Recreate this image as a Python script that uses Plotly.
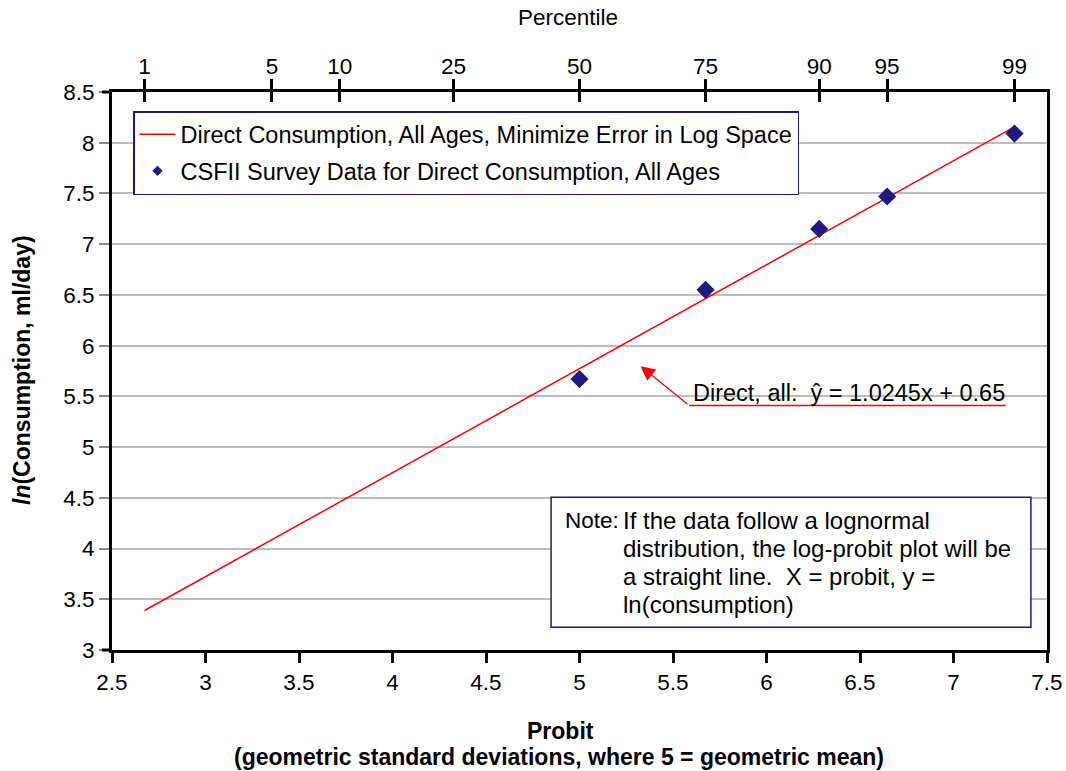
import plotly.graph_objects as go

# Percentile ticks on the top axis and their probit positions
percentiles = [1, 5, 10, 25, 50, 75, 90, 95, 99]
percentile_probits = [2.674, 3.355, 3.718, 4.326, 5.0, 5.674, 6.282, 6.645, 7.326]

# CSFII survey data for direct consumption, all ages: probit vs ln(consumption)
survey_probit = [5.0, 5.674, 6.282, 6.645, 7.326]
survey_ln = [5.67, 6.55, 7.15, 7.47, 8.09]

# Fitted line y = 1.0245x + 0.65, drawn over the 1st-99th percentile range
fit_slope = 1.0245
fit_intercept = 0.65
fit_probit = [2.674, 7.326]
fit_ln = [fit_slope * x + fit_intercept for x in fit_probit]

FIT_NAME = "Direct Consumption, All Ages, Minimize Error in Log Space"
SURVEY_NAME = "CSFII Survey Data for Direct Consumption, All Ages"

FONT = "Liberation Sans, Arial, sans-serif"
NAVY = "#1f1a80"
RED = "#ff0000"

# plot-area pixel frame (used for placing text outside the axes)
L, R, T, B = 112, 1047, 92, 650
W, H = 1066, 771


def px_x(px):
    return (px - L) / (R - L)


def px_y(py):
    return (B - py) / (B - T)


fig = go.Figure()

# data traces
fig.add_trace(go.Scatter(
    x=fit_probit, y=fit_ln, mode="lines",
    line=dict(color=RED, width=1.5),
    name=FIT_NAME, showlegend=False, hoverinfo="skip",
))
fig.add_trace(go.Scatter(
    x=survey_probit, y=survey_ln, mode="markers",
    marker=dict(symbol="diamond", size=14, color=NAVY, line=dict(width=0)),
    name=SURVEY_NAME, showlegend=False,
))

# legend entries (smaller glyphs than the plotted marks)
fig.add_trace(go.Scatter(
    x=[None], y=[None], mode="lines",
    line=dict(color=RED, width=1.5),
    name=FIT_NAME, legendgroup="fit",
))
fig.add_trace(go.Scatter(
    x=[None], y=[None], mode="markers",
    marker=dict(symbol="diamond", size=8, color=NAVY, line=dict(width=0)),
    name=SURVEY_NAME, legendgroup="survey",
))

axis_common = dict(range=[2.5, 7.5], fixedrange=True)
TICK_SIZE = 22.5

fig.update_layout(
    width=W, height=H,
    margin=dict(l=L, r=W - R, t=T, b=H - B, autoexpand=False),
    paper_bgcolor="white", plot_bgcolor="white",
    font=dict(family=FONT, color="black", size=TICK_SIZE),
    showlegend=True,
    legend=dict(
        x=px_x(133), y=px_y(111), xanchor="left", yanchor="top",
        bgcolor="white", bordercolor=NAVY, borderwidth=1.5,
        font=dict(size=23.5, family=FONT),
        tracegroupgap=3, itemwidth=36,
    ),
    xaxis=dict(
        **axis_common, dtick=0.5, tick0=2.5,
        showgrid=False, zeroline=False,
        showline=True, linecolor="black", linewidth=3,
        ticks="outside", ticklen=10, tickwidth=3, tickcolor="black",
        tickfont=dict(size=TICK_SIZE),
    ),
    xaxis2=dict(
        **axis_common, overlaying="x", side="top", anchor="y",
        tickmode="array", tickvals=percentile_probits,
        ticktext=[str(p) for p in percentiles],
        showgrid=False, zeroline=False,
        showline=True, linecolor="black", linewidth=3,
        ticks="outside", ticklen=10, tickwidth=3, tickcolor="black",
        tickfont=dict(size=TICK_SIZE), ticklabelstandoff=-4,
    ),
    xaxis3=dict(
        **axis_common, overlaying="x", side="top", anchor="y",
        tickmode="array", tickvals=percentile_probits,
        showticklabels=False, showgrid=False, zeroline=False, showline=False,
        ticks="inside", ticklen=10, tickwidth=3, tickcolor="black",
    ),
    yaxis=dict(
        range=[3, 8.5], dtick=0.5, tick0=3, fixedrange=True,
        showgrid=True, gridcolor="#bdbdbd", gridwidth=1.5,
        zeroline=False,
        showline=True, linecolor="black", linewidth=3, mirror=True,
        ticks="outside", ticklen=10, tickwidth=1.5, tickcolor="#8c8c8c",
        tickfont=dict(size=TICK_SIZE),
    ),
)

# invisible traces so the top axes are registered
fig.add_trace(go.Scatter(x=[5], y=[5], xaxis="x2", mode="markers",
                         marker=dict(opacity=0), showlegend=False, hoverinfo="skip"))
fig.add_trace(go.Scatter(x=[5], y=[5], xaxis="x3", mode="markers",
                         marker=dict(opacity=0), showlegend=False, hoverinfo="skip"))

# top and bottom frame lines run a little past the left axis
for yv in (0, 1):
    fig.add_shape(type="line", xref="paper", yref="paper",
                  x0=px_x(102), x1=0, y0=yv, y1=yv,
                  line=dict(color="black", width=3), layer="above")

# axis titles
fig.add_annotation(
    xref="paper", yref="paper", x=px_x(568), y=px_y(18),
    text="Percentile", showarrow=False, font=dict(size=22.5),
    xanchor="center", yanchor="middle",
)
fig.add_annotation(
    xref="paper", yref="paper", x=px_x(560), y=px_y(731),
    text="<b>Probit</b>", showarrow=False, font=dict(size=23),
    xanchor="center", yanchor="middle",
)
fig.add_annotation(
    xref="paper", yref="paper", x=px_x(559), y=px_y(757),
    text="<b>(geometric standard deviations, where 5 = geometric mean)</b>",
    showarrow=False, font=dict(size=23),
    xanchor="center", yanchor="middle",
)
fig.add_annotation(
    xref="paper", yref="paper", x=px_x(22), y=px_y(370),
    text="<b><i>ln</i>(Consumption, ml/day)</b>", textangle=-90,
    showarrow=False, font=dict(size=23),
    xanchor="center", yanchor="middle",
)

# fitted-equation callout with arrow and underline
eq_x0, eq_x1, eq_y = 5.586, 7.279, 5.41
fig.add_shape(type="line", xref="x", yref="y",
              x0=eq_x0, x1=eq_x1, y0=eq_y, y1=eq_y,
              line=dict(color=RED, width=1.3))
fig.add_annotation(
    xref="x", yref="y", x=5.327, y=5.798,
    axref="x", ayref="y", ax=eq_x0, ay=eq_y,
    text="", showarrow=True, arrowhead=2, arrowsize=2.2,
    arrowwidth=1.3, arrowcolor=RED, standoff=0, startstandoff=0,
)
fig.add_annotation(
    xref="x", yref="y", x=5.597, y=5.535,
    text=f"Direct, all:  \u0177 = {fit_slope}x + {fit_intercept}",
    showarrow=False, font=dict(size=23.5),
    xanchor="left", yanchor="middle",
)

# note box
fig.add_shape(type="rect", xref="x", yref="y",
              x0=4.848, x1=7.414, y0=3.224, y1=4.506,
              line=dict(color=NAVY, width=1.5), fillcolor="white", layer="above")
note_lines = [
    "If the data follow a lognormal",
    "distribution, the log-probit plot will be",
    "a straight line.  X = probit, y =",
    "ln(consumption)",
]
note_rows_px = [520, 548, 576, 604]
fig.add_annotation(
    xref="paper", yref="paper", x=px_x(563), y=px_y(note_rows_px[0]),
    text="Note:", showarrow=False, font=dict(size=22.5),
    xanchor="left", yanchor="middle",
)
for line, py in zip(note_lines, note_rows_px):
    fig.add_annotation(
        xref="paper", yref="paper", x=px_x(621), y=px_y(py),
        text=line, showarrow=False, font=dict(size=24),
        xanchor="left", yanchor="middle",
    )

fig.write_html("out.html")
